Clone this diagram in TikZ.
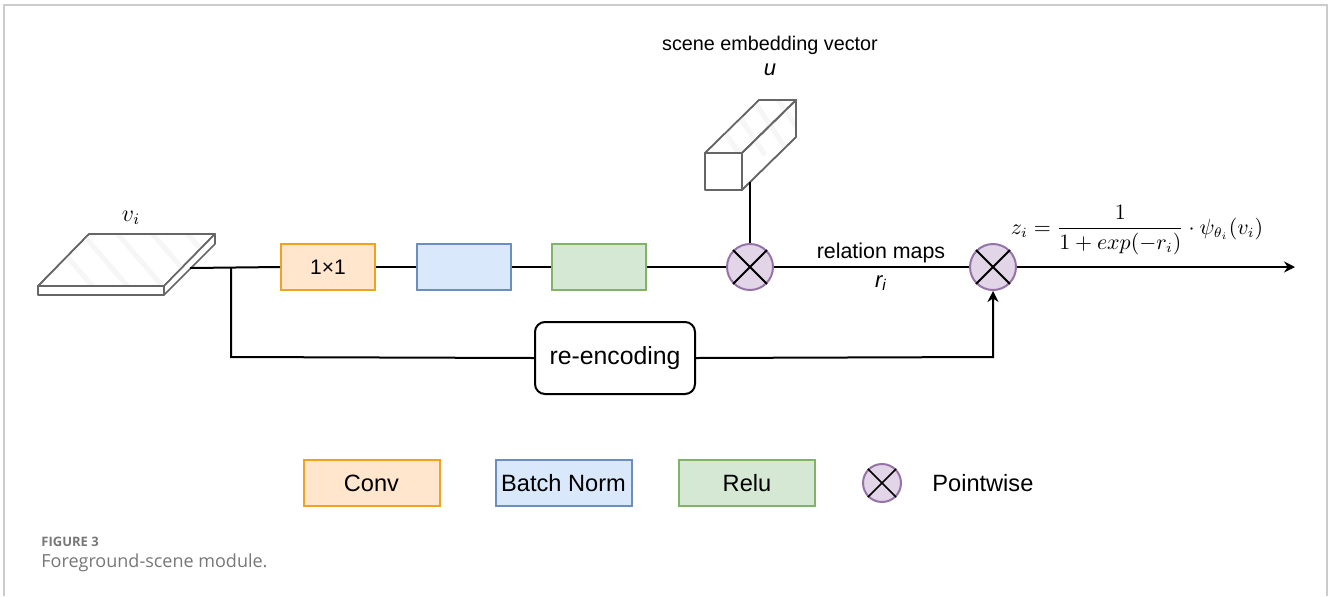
\documentclass[tikz,border=0pt]{standalone}
\usepackage{fontspec}
\setmainfont{Liberation Sans}
\newfontfamily\capfont{Open Sans}
\usetikzlibrary{arrows.meta}
\definecolor{convfill}{HTML}{FFE6CC}
\definecolor{convdraw}{HTML}{EFA320}
\definecolor{bnfill}{HTML}{DAE8FC}
\definecolor{bndraw}{HTML}{6C8EBF}
\definecolor{relufill}{HTML}{D5E8D4}
\definecolor{reludraw}{HTML}{82B366}
\definecolor{pwfill}{HTML}{E1D5E7}
\definecolor{pwdraw}{HTML}{9673A6}
\definecolor{edgegray}{HTML}{666666}
\definecolor{framegray}{HTML}{CCCCCC}
\definecolor{capgray}{HTML}{777777}
\begin{document}
\begin{tikzpicture}[x=0.5pt,y=-0.5pt,
  conn/.style={line width=1pt, black},
  opbox/.style={draw, line width=1pt, minimum width=47pt, minimum height=23pt, inner sep=0pt, font=\fontsize{10.5}{12}\selectfont},
  convbox/.style={opbox, fill=convfill, draw=convdraw},
  bnbox/.style={opbox, fill=bnfill, draw=bndraw},
  relubox/.style={opbox, fill=relufill, draw=reludraw},
  legbox/.style={minimum width=68pt, font=\fontsize{11.8}{14}\selectfont},
  pw/.style={circle, draw=pwdraw, fill=pwfill, line width=1pt, minimum size=23pt, inner sep=0pt},
  cube/.style={draw=edgegray, fill=white, line width=0.8pt, line join=round},
  stripe/.style={gray!7, line width=2.5pt},
  lbl/.style={inner sep=0pt},
  arr/.style={-{Stealth[length=5.5pt,width=5.5pt]}}
]
\useasboundingbox (0,0) rectangle (1328,596);
% frame
\draw[framegray, line width=1pt] (4,596) -- (4,5) -- (1327,5) -- (1327,596);

% ---------- plate v_i ----------
\coordinate (pA) at (89,234);
\coordinate (pB) at (215,234);
\coordinate (pC) at (164,286);
\coordinate (pD) at (38,286);
\coordinate (pE) at (164,295);
\coordinate (pF) at (38,295);
\coordinate (pG) at (215,244);
\draw[cube] (pA) -- (pB) -- (pC) -- (pD) -- cycle;
\begin{scope}
  \clip (pA) -- (pB) -- (pC) -- (pD) -- cycle;
  \foreach \s in {40,75,110,145,180,215} {
    \draw[stripe] (\s,225) -- ++(60,70);
  }
\end{scope}
\draw[cube, fill=none] (pA) -- (pB) -- (pC) -- (pD) -- cycle;
\draw[cube] (pD) -- (pC) -- (pE) -- (pF) -- cycle;
\draw[cube] (pB) -- (pG) -- (pE) -- (pC) -- cycle;
\coordinate (plateout) at (190,268);
\node[lbl, font=\fontsize{12}{14}\selectfont] (vlabel) at (131,218) {$v_i$};

% ---------- cuboid u ----------
\coordinate (q1) at (705,153);
\coordinate (q2) at (742,153);
\coordinate (q3) at (742,190);
\coordinate (q4) at (705,190);
\coordinate (q5) at (759,100);
\coordinate (q6) at (796,100);
\coordinate (q7) at (796,137);
\draw[cube] (q1) -- (q2) -- (q6) -- (q5) -- cycle;
\draw[cube] (q2) -- (q6) -- (q7) -- (q3) -- cycle;
\begin{scope}
  \clip (q1) -- (q5) -- (q6) -- (q7) -- (q3) -- (q2) -- cycle;
  \foreach \s in {700,725,750,775,800} {
    \draw[stripe] (\s,95) -- ++(40,60);
  }
\end{scope}
\draw[cube, fill=none] (q1) -- (q2) -- (q6) -- (q5) -- cycle;
\draw[cube, fill=none] (q2) -- (q6) -- (q7) -- (q3) -- cycle;
\draw[cube] (q1) -- (q2) -- (q3) -- (q4) -- cycle;
\coordinate (vecout) at (750,182);
\node[lbl, font=\fontsize{9.9}{12}\selectfont] (sev) at (770,45) {scene embedding vector};
\node[lbl, font=\fontsize{11}{12}\selectfont] (ulabel) at (770,70) {\itshape u};

% ---------- main chain ----------
\node[convbox] (conv) at (328,267) {1×1};
\node[bnbox] (bn) at (463.5,267) {};
\node[relubox] (relu) at (598.5,267) {};
\node[pw] (c1) at (750,267) {};
\node[pw] (c2) at (993,267) {};
\foreach \c in {c1,c2} {
  \draw[line width=1pt] (\c.north west) -- (\c.south east) (\c.north east) -- (\c.south west);
}
\coordinate (branch) at (231,268);
\coordinate (bdown) at (231,357);
\coordinate (upturn) at (993,357);
\coordinate (out) at (1295,267);
\node[draw, line width=1pt, rounded corners=5pt, minimum width=80pt, minimum height=36pt, inner sep=0pt, font=\fontsize{12.4}{14}\selectfont] (reenc) at (615,358) {re-encoding};

\draw[conn] (plateout) -- (conv.west);
\draw[conn] (conv.east) -- (bn.west);
\draw[conn] (bn.east) -- (relu.west);
\draw[conn] (relu.east) -- (c1.west);
\draw[conn] (vecout) -- (c1.north);
\draw[conn] (c1.east) -- (c2.west);
\draw[conn, arr] (c2.east) -- (out);
\draw[conn] (branch) -- (bdown) -- (reenc.west);
\draw[conn, arr] (reenc.east) -- (upturn) -- (c2.south);

\node[lbl, font=\fontsize{10.7}{12}\selectfont] (relmaps) at (881,253) {relation maps};
\node[lbl, font=\fontsize{11}{12}\selectfont] (rlabel) at (881,283) {\itshape r\textsubscript{i}};
\node[lbl, font=\fontsize{10.5}{12}\selectfont] (formula) at (1137,230)
  {$\displaystyle z_i = \frac{1}{1+exp(-r_i)}\cdot\psi_{\theta_i}(v_i)$};

% ---------- legend ----------
\node[convbox, legbox] (lconv) at (371.5,483) {Conv};
\node[bnbox, legbox] (lbn) at (563.5,483) {Batch Norm};
\node[relubox, legbox] (lrelu) at (747,483) {Relu};
\node[pw, minimum size=19pt] (lpw) at (882,483) {};
\draw[line width=0.8pt] (lpw.north west) -- (lpw.south east) (lpw.north east) -- (lpw.south west);
\node[lbl, anchor=west, font=\fontsize{11.8}{14}\selectfont] (lpwtext) at (932,483) {Pointwise};

% ---------- caption ----------
\node[lbl, anchor=west, font=\capfont\bfseries\fontsize{6.5}{8}\selectfont, text=capgray] (figno) at (41,542) {FIGURE 3};
\node[lbl, anchor=west, font=\capfont\fontsize{9}{11}\selectfont, text=capgray] (figcap) at (41,563) {Foreground-scene module.};
\end{tikzpicture}
\end{document}
